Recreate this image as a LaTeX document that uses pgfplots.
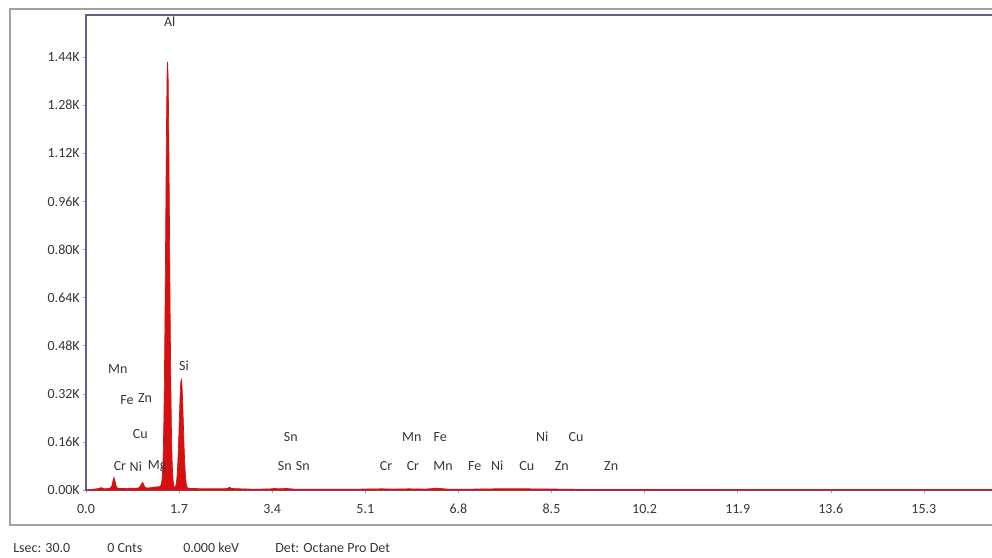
\documentclass[border=0pt]{standalone}
\usepackage{fontspec}
\setmainfont{Carlito}
\usepackage{pgfplots}
\pgfplotsset{compat=1.18}
\definecolor{specred}{RGB}{214,16,16}
\definecolor{axframe}{RGB}{95,95,140}
\definecolor{txt}{RGB}{55,55,55}
\definecolor{outerframe}{RGB}{160,160,165}
\begin{document}
\begin{tikzpicture}
\fontsize{10.5}{12}\selectfont
\draw[outerframe, line width=1pt] (770pt,411pt) -- (7.5pt,411pt) -- (7.5pt,24pt) -- (770pt,24pt);
\begin{axis}[
  at={(64.5pt,50.25pt)}, anchor=south west,
  scale only axis, width=685.5pt, height=356.25pt,
  xmin=0, xmax=16.69, ymin=0, ymax=1580,
  clip=false,
  axis line style={axframe, line width=0.9pt},
  xtick={0,1.7,3.4,5.1,6.8,8.5,10.2,11.9,13.6,15.3},
  xticklabels={0.0,1.7,3.4,5.1,6.8,8.5,10.2,11.9,13.6,15.3},
  ytick={0,160,320,480,640,800,960,1120,1280,1440},
  yticklabels={0.00K,0.16K,0.32K,0.48K,0.64K,0.80K,0.96K,1.12K,1.28K,1.44K},
  tick style={axframe!60, line width=0.4pt},
  major tick length=2pt,
  xtick pos=bottom, ytick pos=left,
  tick align=outside,
  ticklabel style={font=\fontsize{10.5}{12}\selectfont, text=txt},
  xticklabel style={yshift=-5pt},
  yticklabel style={xshift=1pt},
]
\addplot[draw=specred, fill=specred, line width=0.5pt] coordinates {
(0,0) (0.05,1) (0.1,2) (0.15,3) (0.2,4) (0.25,6) (0.28,8) (0.31,5) (0.35,4) (0.4,5)
(0.44,6) (0.47,12) (0.49,28) (0.51,42) (0.53,30) (0.55,13) (0.57,7) (0.62,5) (0.7,5)
(0.8,6) (0.9,6) (0.96,7) (0.99,12) (1.01,19) (1.03,25) (1.05,20) (1.07,11) (1.10,7)
(1.15,7) (1.2,8) (1.25,10) (1.3,10) (1.35,12) (1.37,16) (1.38,24) (1.39,38) (1.40,66)
(1.41,118) (1.42,206) (1.43,339) (1.44,526) (1.45,744) (1.46,991) (1.47,1214) (1.48,1373)
(1.49,1425) (1.50,1373) (1.51,1214) (1.52,991) (1.53,744) (1.54,516) (1.55,337) (1.56,202)
(1.57,115) (1.58,62) (1.59,34) (1.60,18) (1.61,11) (1.62,9) (1.63,10) (1.64,15) (1.65,24)
(1.66,40) (1.67,66) (1.68,103) (1.69,151) (1.70,208) (1.71,268) (1.72,320) (1.73,357)
(1.74,368) (1.75,357) (1.76,320) (1.77,268) (1.78,208) (1.79,150) (1.80,102) (1.81,65)
(1.82,38) (1.83,22) (1.84,13) (1.85,8) (1.87,6) (1.9,5) (2.0,5) (2.1,4) (2.2,4) (2.3,4)
(2.4,4) (2.5,4) (2.58,5) (2.62,9) (2.66,5) (2.8,4) (3.0,3) (3.2,3) (3.4,4) (3.44,6)
(3.5,4) (3.66,5) (3.8,3) (4.0,3) (4.2,3) (4.5,3) (5.0,3) (5.41,4) (5.6,3) (5.9,4)
(6.2,3) (6.40,6) (6.6,3) (7.06,3) (7.48,4) (8.04,4) (8.63,3) (9.0,2) (10,2) (11,2)
(12,1) (13,1) (14,1) (15,1) (16,1) (16.69,1)
} \closedcycle;
\begin{scope}[every node/.style={text=txt, font=\fontsize{10.5}{12}\selectfont, inner sep=0pt}]
\node at (axis cs:1.53,1557) {Al};
\node at (axis cs:0.58,402) {Mn};
\node at (axis cs:0.75,299) {Fe};
\node at (axis cs:1.08,306) {Zn};
\node at (axis cs:0.99,186) {Cu};
\node at (axis cs:0.62,80) {Cr};
\node at (axis cs:0.91,78) {Ni};
\node at (axis cs:1.30,80) {Mg};
\node at (axis cs:1.79,412) {Si};
\node at (axis cs:3.74,176) {Sn};
\node at (axis cs:3.63,80) {Sn};
\node at (axis cs:3.96,80) {Sn};
\node at (axis cs:5.48,80) {Cr};
\node at (axis cs:5.97,80) {Cr};
\node at (axis cs:6.52,80) {Mn};
\node at (axis cs:7.10,80) {Fe};
\node at (axis cs:7.51,80) {Ni};
\node at (axis cs:8.05,80) {Cu};
\node at (axis cs:8.69,80) {Zn};
\node at (axis cs:9.59,80) {Zn};
\node at (axis cs:5.95,176) {Mn};
\node at (axis cs:6.47,176) {Fe};
\node at (axis cs:8.33,176) {Ni};
\node at (axis cs:8.95,176) {Cu};
\end{scope}
\end{axis}
\begin{scope}[every node/.style={text=txt, font=\fontsize{10.5}{12}\selectfont, anchor=west, inner sep=0pt}]
\node at (9.75pt,6.75pt) {Lsec: 30.0};
\node at (80.25pt,6.75pt) {0 Cnts};
\node at (137.25pt,6.75pt) {0.000 keV};
\node at (206.25pt,6.75pt) {Det: Octane Pro Det};
\end{scope}
\pgfresetboundingbox
\useasboundingbox (0,0) rectangle (744pt,417.75pt);
\end{tikzpicture}
\end{document}
